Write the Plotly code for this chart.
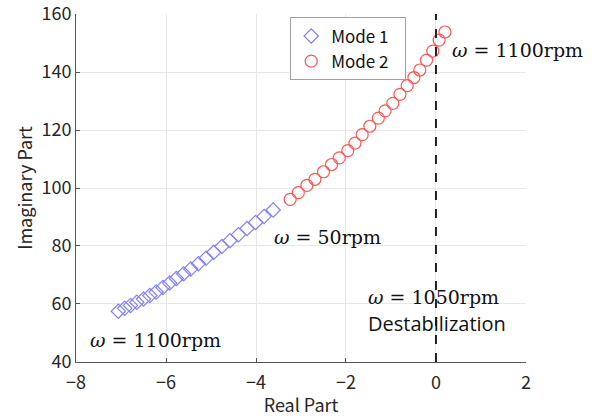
import plotly.graph_objects as go

# Eigenvalue loci for the two modes, speeds 50 rpm -> 1100 rpm in 50 rpm steps
speed_rpm = list(range(50, 1101, 50))

mode1_real = [-3.62, -3.82, -4.01, -4.20, -4.39, -4.58, -4.76, -4.94, -5.11, -5.28, -5.45,
              -5.61, -5.77, -5.92, -6.07, -6.22, -6.36, -6.50, -6.65, -6.79, -6.92, -7.06]
mode1_imag = [92.4, 90.2, 88.1, 86.0, 83.9, 81.8, 79.8, 77.8, 75.8, 73.9, 72.1,
              70.4, 68.8, 67.2, 65.7, 64.1, 62.9, 61.7, 60.6, 59.5, 58.5, 57.5]

mode2_real = [-3.24, -3.06, -2.87, -2.69, -2.50, -2.32, -2.15, -1.96, -1.80, -1.64, -1.47,
              -1.28, -1.13, -0.96, -0.80, -0.64, -0.49, -0.36, -0.21, -0.07, 0.07, 0.20]
mode2_imag = [96.1, 98.4, 100.9, 103.0, 105.6, 108.1, 110.4, 112.9, 115.5, 118.4, 121.3,
              124.1, 126.6, 129.2, 132.3, 135.3, 138.1, 140.7, 144.1, 147.2, 151.0, 153.8]

x_ticks = [-8, -6, -4, -2, 0, 2]
y_ticks = [40, 60, 80, 100, 120, 140, 160]

TICK_FONT = "Noto Sans CJK JP"
MATH_FONT = "DejaVu Serif"
PAD = "\u00a0\u00a0\u00a0"

fig = go.Figure()
fig.add_trace(go.Scatter(
    x=mode1_real, y=mode1_imag, mode="markers", name="Mode 1" + PAD,
    customdata=speed_rpm,
    marker=dict(symbol="diamond-open", size=11, color="#8080ff", line=dict(width=1.2)),
))
fig.add_trace(go.Scatter(
    x=mode2_real, y=mode2_imag, mode="markers", name="Mode 2" + PAD,
    customdata=speed_rpm,
    marker=dict(symbol="circle-open", size=12, color="#ff5555", line=dict(width=1.2)),
))

# Stability boundary (real part = 0)
fig.add_shape(type="line", x0=0, x1=0, y0=40, y1=160, xref="x", yref="y",
              line=dict(color="#222222", width=2, dash="dash"))

def omega_label(x, y, text):
    fig.add_annotation(x=x, y=y, xref="x", yref="y", xanchor="left", yanchor="middle",
                       showarrow=False, text=text,
                       font=dict(family=MATH_FONT, size=19, color="#111111"))

omega_label(0.31, 147.7, "<i>ω</i> = 1100rpm")
omega_label(-3.64, 83.2, "<i>ω</i> = 50rpm")
omega_label(-1.56, 62.3, "<i>ω</i> = 1050rpm")
omega_label(-7.73, 47.6, "<i>ω</i> = 1100rpm")
fig.add_annotation(x=-1.56, y=53.4, xref="x", yref="y", xanchor="left", yanchor="middle",
                   showarrow=False, text="Destabilization",
                   font=dict(family="Open Sans", size=20, color="#111111"))

axis_common = dict(
    showgrid=True, gridcolor="#e8e8e8", gridwidth=1,
    showline=True, linecolor="#555555", linewidth=1,
    ticks="inside", ticklen=4, tickcolor="#555555",
    tickfont=dict(family=TICK_FONT, size=18, color="#262626"),
    ticklabeloverflow="allow", automargin=False,
    zeroline=False, mirror=False,
)

fig.update_layout(
    width=610, height=417,
    margin=dict(l=76, r=84, t=14, b=55, autoexpand=False),
    plot_bgcolor="white", paper_bgcolor="white",
    showlegend=True,
    legend=dict(x=0.476, y=0.99, xanchor="left", yanchor="top",
                bgcolor="white", bordercolor="#a0a0a0", borderwidth=1,
                font=dict(family=TICK_FONT, size=17, color="#111111"),
                tracegroupgap=0, itemwidth=30),
    xaxis=dict(range=[-8.001, 2.001], tickvals=x_ticks,
               ticktext=[("−" + str(-v)) if v < 0 else str(v) for v in x_ticks],
               ticklabelstandoff=4,
               title=dict(text="Real Part", standoff=0,
                          font=dict(family=TICK_FONT, size=18, color="#262626")),
               **axis_common),
    yaxis=dict(range=[39.99, 160.01], tickvals=y_ticks,
               title=dict(text="Imaginary Part", standoff=4,
                          font=dict(family=TICK_FONT, size=18, color="#262626")),
               **axis_common),
)

fig.write_html("out.html")
